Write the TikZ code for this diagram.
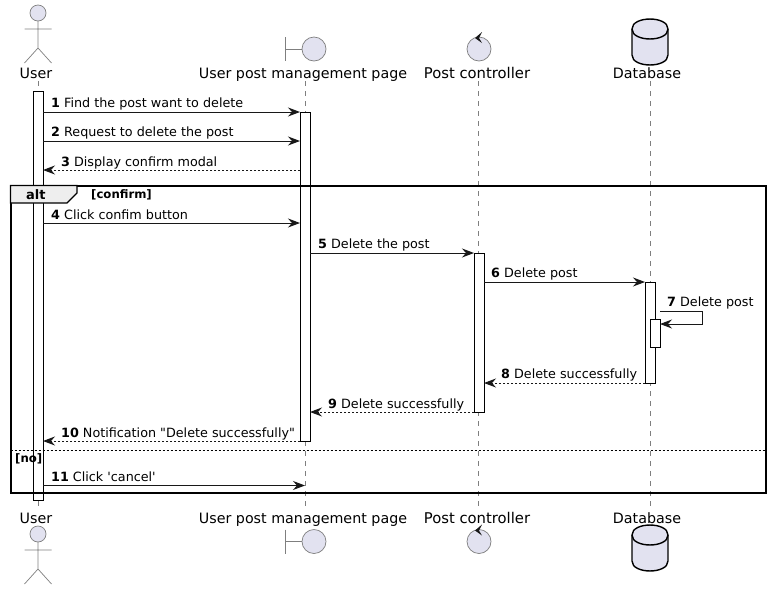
\documentclass[tikz,border=0pt]{standalone}
\usepackage{fontspec}
\newfontfamily\umlfont{DejaVu Sans}
\usetikzlibrary{arrows.meta}
\definecolor{partfill}{HTML}{E2E2F0}
\definecolor{partline}{HTML}{7F7F7F}
\definecolor{msgline}{HTML}{181818}
\definecolor{tabfill}{HTML}{EEEEEE}
\tikzset{
  partname/.style={font=\umlfont\fontsize{14.27}{16}\selectfont, anchor=base, inner sep=0pt},
  ctrlname/.style={partname, font=\umlfont\fontsize{14.8}{16}\selectfont},
  msgtext/.style={font=\umlfont\fontsize{12.75}{15}\selectfont, anchor=base west, inner sep=0pt, text=black},
  boldtext/.style={font=\umlfont\fontsize{11.7}{13}\selectfont\bfseries, anchor=base west, inner sep=0pt},
  lifeline/.style={draw=partline, line width=.8pt, dash pattern=on 5pt off 5pt},
  actbar/.style={draw=black, fill=white, line width=.9pt, minimum width=10pt, inner sep=0pt, outer sep=0pt},
  msg/.style={draw=msgline, line width=1pt, -{Stealth[length=12pt, width=9pt, inset=4pt, fill=msgline]}},
  reply/.style={msg, dash pattern=on 2pt off 2pt},
  actorfig/.pic={
    \draw[draw=partline, fill=partfill, line width=.7pt] (0,13) circle (8);
    \draw[draw=partline, line width=.7pt] (0,21) -- (0,48) (-13.5,29) -- (13.5,29) (-13.5,63) -- (0,48) -- (13.5,63);
  },
  boundaryfig/.pic={
    \draw[draw=partline, line width=.7pt] (-29,37) -- (-29,61) (-29,49) -- (-3,49);
    \draw[draw=partline, fill=partfill, line width=.7pt] (0,49) circle (12);
  },
  controlfig/.pic={
    \draw[draw=partline, fill=partfill, line width=.7pt] (1,49) circle (12);
    \fill[msgline] (4,32) -- (-3,38) -- (4,43) -- (1,38) -- cycle;
  },
  databasefig/.pic={
    \draw[draw=black, fill=partfill, line width=1.4pt] (-18,29) .. controls (-18,15.7) and (18,15.7) .. (18,29) -- (18,55) .. controls (18,68.3) and (-18,68.3) .. (-18,55) -- cycle;
    \draw[draw=black, line width=1.4pt] (-18,29) .. controls (-18,42.3) and (18,42.3) .. (18,29);
  },
}
\begin{document}
\begin{tikzpicture}[x=1pt, y=-1pt]
\useasboundingbox (0,0) rectangle (772,590);

% participants, top row
\pic at (38,0) {actorfig};
\pic at (314,0) {boundaryfig};
\pic at (478,0) {controlfig};
\pic at (650,0) {databasefig};
\node[partname] (userTop) at (36,78) {User};
\node[partname] (pageTop) at (303,78) {User post management page};
\node[ctrlname] (ctrlTop) at (477,78) {Post controller};
\node[partname] (dbTop) at (647,78) {Database};

% participants, bottom row
\pic at (38,521) {actorfig};
\pic at (314,492.5) {boundaryfig};
\pic at (478,492.5) {controlfig};
\pic at (650,506) {databasefig};
\node[partname] (userBot) at (36,523) {User};
\node[partname] (pageBot) at (303,523) {User post management page};
\node[ctrlname] (ctrlBot) at (477,523) {Post controller};
\node[partname] (dbBot) at (647,523) {Database};

% lifelines
\coordinate (userA) at (38,81);
\coordinate (userB) at (38,507);
\coordinate (pageA) at (305,81);
\coordinate (pageB) at (305,507);
\coordinate (ctrlA) at (478,81);
\coordinate (ctrlB) at (478,507);
\coordinate (dbA) at (650,81);
\coordinate (dbB) at (650,507);
\draw[lifeline] (userA) -- (userB);
\draw[lifeline] (pageA) -- (pageB);
\draw[lifeline] (ctrlA) -- (ctrlB);
\draw[lifeline] (dbA) -- (dbB);

% activation bars
\node[actbar, minimum height=409pt] (userBar) at (38,295.5) {};
\node[actbar, minimum height=329pt] (pageBar) at (305,276.5) {};
\node[actbar, minimum height=159pt] (ctrlBar) at (479,332.5) {};
\node[actbar, minimum height=101pt] (dbBar) at (650,332.5) {};
\node[actbar, minimum height=28pt] (dbInner) at (655,333) {};

% message rows
\coordinate (rowA) at (0,112);
\coordinate (rowB) at (0,141);
\coordinate (rowC) at (0,170);
\coordinate (rowD) at (0,223);
\coordinate (rowE) at (0,253);
\coordinate (rowF) at (0,282);
\coordinate (rowG) at (0,383);
\coordinate (rowH) at (0,412);
\coordinate (rowI) at (0,441);
\coordinate (rowJ) at (0,485.5);
\coordinate (selfA) at (660,311);
\coordinate (selfB) at (702,311);
\coordinate (selfC) at (702,324);

\draw[msg] (userBar.east |- rowA) -- (pageBar.west |- rowA);
\draw[msg] (userBar.east |- rowB) -- (pageBar.west |- rowB);
\draw[reply] (pageBar.west |- rowC) -- (userBar.east |- rowC);
\draw[msg] (userBar.east |- rowD) -- (pageBar.west |- rowD);
\draw[msg] (pageBar.east |- rowE) -- (ctrlBar.west |- rowE);
\draw[msg] (ctrlBar.east |- rowF) -- (dbBar.west |- rowF);
\draw[msg] (selfA) -- (selfB) -- (selfC) -- (dbInner.east |- selfC);
\draw[reply] (dbBar.west |- rowG) -- (ctrlBar.east |- rowG);
\draw[reply] (ctrlBar.west |- rowH) -- (pageBar.east |- rowH);
\draw[reply] (pageBar.west |- rowI) -- (userBar.east |- rowI);
\draw[msg] (userBar.east |- rowJ) -- (pageA |- rowJ);

% message labels
\node[msgtext] (msgA) at (51,107) {\textbf{1} Find the post want to delete};
\node[msgtext] (msgB) at (51,136) {\textbf{2} Request to delete the post};
\node[msgtext] (msgC) at (61,166) {\textbf{3} Display confirm modal};
\node[msgtext] (msgD) at (51,219) {\textbf{4} Click confim button};
\node[msgtext] (msgE) at (318,248) {\textbf{5} Delete the post};
\node[msgtext] (msgF) at (491,277) {\textbf{6} Delete post};
\node[msgtext] (msgG) at (667,306) {\textbf{7} Delete post};
\node[msgtext] (msgH) at (501,378) {\textbf{8} Delete successfully};
\node[msgtext] (msgI) at (328,408) {\textbf{9} Delete successfully};
\node[msgtext] (msgJ) at (61,437) {\textbf{10} Notification "Delete successfully"};
\node[msgtext] (msgK) at (51,481) {\textbf{11} Click 'cancel'};

% alt frame
\draw[draw=black, line width=2pt] (10.5,185.5) rectangle (766,493);
\draw[draw=black, fill=tabfill, line width=1.2pt] (10.5,185.5) -- (77,185.5) -- (77,193) -- (67,203) -- (10.5,203) -- cycle;
\draw[draw=black, line width=.8pt, dash pattern=on 2pt off 2pt] (10.5,450.5) -- (766,450.5);
\node[msgtext, font=\umlfont\fontsize{13}{15}\selectfont\bfseries] (altName) at (26,199) {alt};
\node[boldtext] (altGuard) at (91,198) {[confirm]};
\node[boldtext] (noGuard) at (15,462) {[no]};

\end{tikzpicture}
\end{document}
